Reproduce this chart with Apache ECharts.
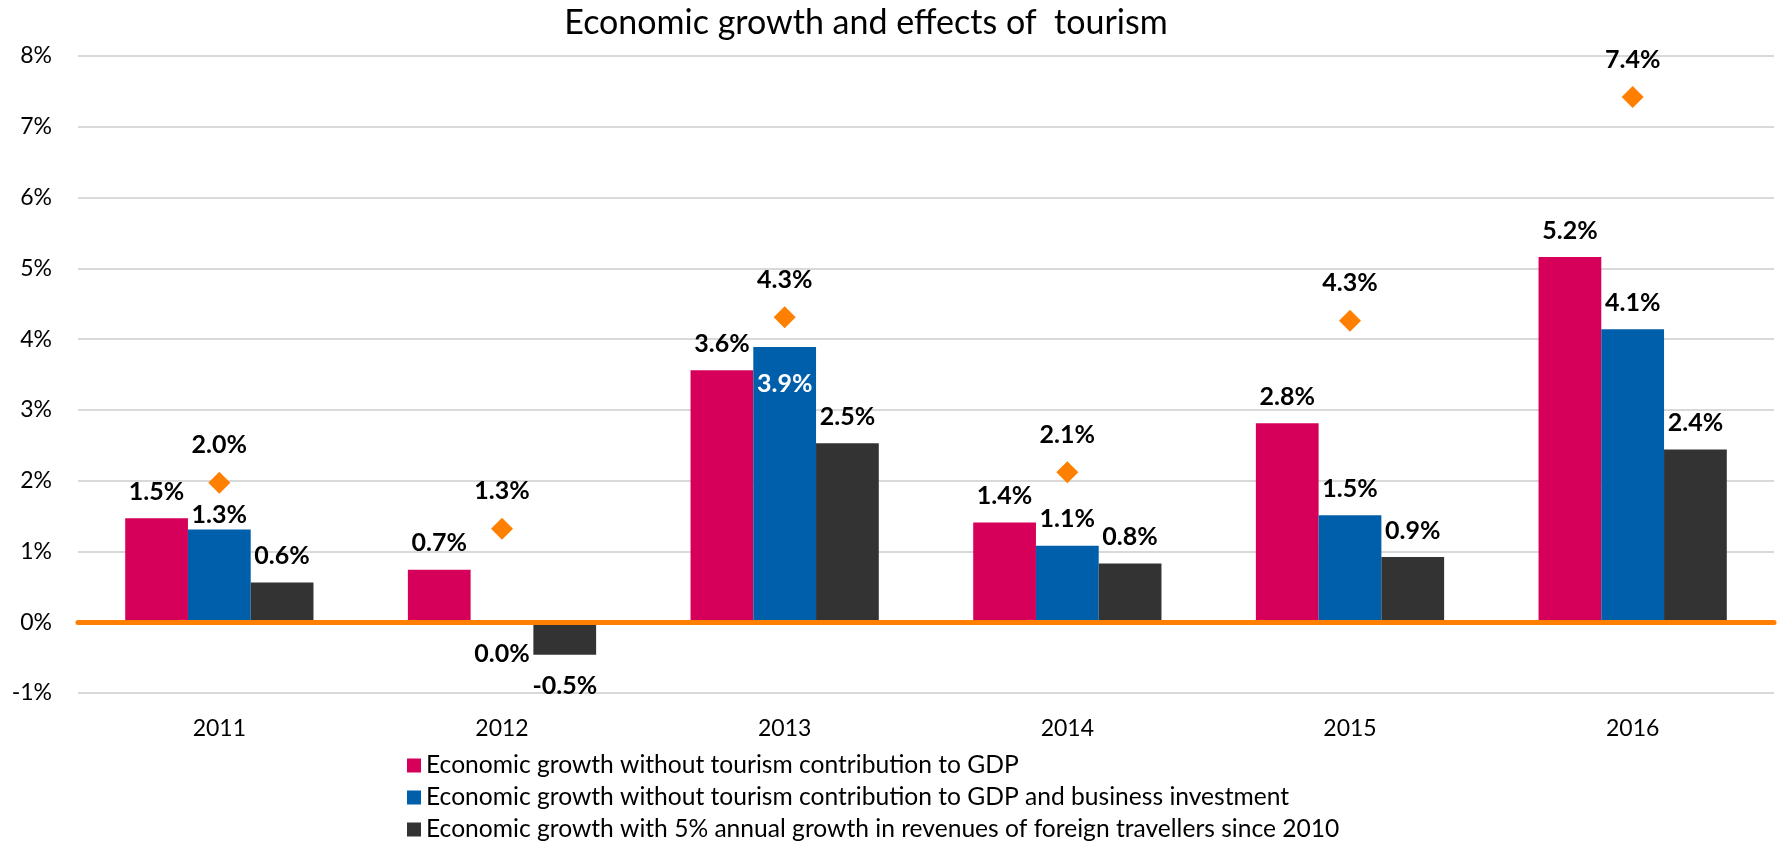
<!DOCTYPE html>
<html>
<head>
<meta charset="utf-8">
<title>Economic growth and effects of tourism</title>
<script src="https://cdn.jsdelivr.net/npm/echarts@6/dist/echarts.min.js"></script>
<style>
  html, body { margin: 0; padding: 0; background: #ffffff; }
  #chart { width: 1780px; height: 841px; }
</style>
</head>
<body>
<div id="chart"></div>
<script>
// Years on the category axis
var years = ['2011', '2012', '2013', '2014', '2015', '2016'];

// Growth rates in percent
var growthNoTourism = [1.47, 0.74, 3.56, 1.41, 2.81, 5.16];
var growthNoTourismNoInvestment = [1.31, 0.0, 3.89, 1.08, 1.51, 4.14];
var growthForeignRevenue = [0.56, -0.46, 2.53, 0.83, 0.92, 2.44];
var tourismEffect = [1.97, 1.32, 4.31, 2.12, 4.26, 7.42];

// Value axis ticks
var yTicks = [-1, 0, 1, 2, 3, 4, 5, 6, 7, 8];

var seriesNames = [
  'Economic growth without tourism contribution to GDP',
  'Economic growth without tourism contribution to GDP and business investment',
  'Economic growth with 5% annual growth in revenues of foreign travellers since 2010'
];
var seriesColors = ['#D6005A', '#005FAA', '#333333'];

var FONT = 'Lato, "Open Sans", sans-serif';
var labelFont = { fontFamily: FONT, fontSize: 25, fontWeight: 'bold', color: '#000000' };

function pct(v) { return v.toFixed(1) + '%'; }

// Bar items: values at or below zero carry their label under the bar
function barItems(values, special) {
  return values.map(function (v, i) {
    var item = { value: v };
    if (v <= 0) {
      item.label = { position: 'bottom', distance: 19 };
    }
    if (special && special[i]) {
      item.label = Object.assign({}, item.label || {}, special[i]);
    }
    return item;
  });
}

function barSeries(idx, values, special) {
  return {
    name: seriesNames[idx],
    type: 'bar',
    xAxisIndex: 0,
    barWidth: '22.2%',
    barGap: '0%',
    itemStyle: { color: seriesColors[idx] },
    label: Object.assign({
      show: true,
      position: 'top',
      distance: 14,
      formatter: function (p) { return pct(p.value); }
    }, labelFont),
    data: barItems(values, special)
  };
}

// One legend row per bar series, stacked under the chart
function legendRow(idx) {
  return {
    orient: 'horizontal',
    left: 407,
    top: 753 + idx * 32,
    padding: 0,
    itemWidth: 14,
    itemHeight: 14,
    icon: 'rect',
    data: [seriesNames[idx]],
    textStyle: { fontFamily: FONT, fontSize: 24.6, color: '#000000', lineHeight: 22 }
  };
}

var chart = echarts.init(document.getElementById('chart'), null, { renderer: 'canvas' });

chart.setOption({
  animation: false,
  backgroundColor: '#ffffff',
  title: {
    text: 'Economic growth and effects of  tourism',
    left: 866,
    textAlign: 'center',
    top: 6,
    padding: 0,
    textStyle: { fontFamily: FONT, fontSize: 34, fontWeight: 'normal', color: '#000000' }
  },
  legend: [legendRow(0), legendRow(1), legendRow(2)],
  grid: { left: 78, right: 6, top: 56, bottom: 148, containLabel: false },
  xAxis: [
    {
      type: 'category',
      data: years,
      position: 'bottom',
      axisLine: { show: false, onZero: false },
      axisTick: { show: false },
      axisLabel: { margin: 24, fontFamily: FONT, fontSize: 23, color: '#000000' }
    },
    {
      type: 'category',
      data: years,
      position: 'top',
      z: 10,
      axisLine: { show: true, onZero: true, lineStyle: { color: '#FF7F00', width: 5 } },
      axisTick: { show: false },
      axisLabel: { show: false }
    }
  ],
  yAxis: {
    type: 'value',
    min: yTicks[0],
    max: yTicks[yTicks.length - 1],
    interval: 1,
    axisLine: { show: false },
    axisTick: { show: false },
    splitLine: { lineStyle: { color: '#d9d9d9', width: 2 } },
    axisLabel: {
      margin: 26,
      fontFamily: FONT,
      fontSize: 23,
      color: '#000000',
      formatter: function (v) { return v + '%'; }
    }
  },
  series: [
    barSeries(0, growthNoTourism),
    barSeries(1, growthNoTourismNoInvestment, {
      0: { offset: [0, 12] },
      2: { position: 'insideTop', distance: 25, color: '#ffffff' }
    }),
    barSeries(2, growthForeignRevenue),
    {
      name: 'Economic growth with tourism',
      type: 'scatter',
      xAxisIndex: 0,
      symbol: 'diamond',
      symbolSize: 22,
      itemStyle: { color: '#FF7F00', opacity: 1 },
      z: 4,
      label: Object.assign({
        show: true,
        position: 'top',
        distance: 14,
        formatter: function (p) { return pct(p.value); }
      }, labelFont),
      data: tourismEffect
    }
  ]
});
</script>
</body>
</html>
